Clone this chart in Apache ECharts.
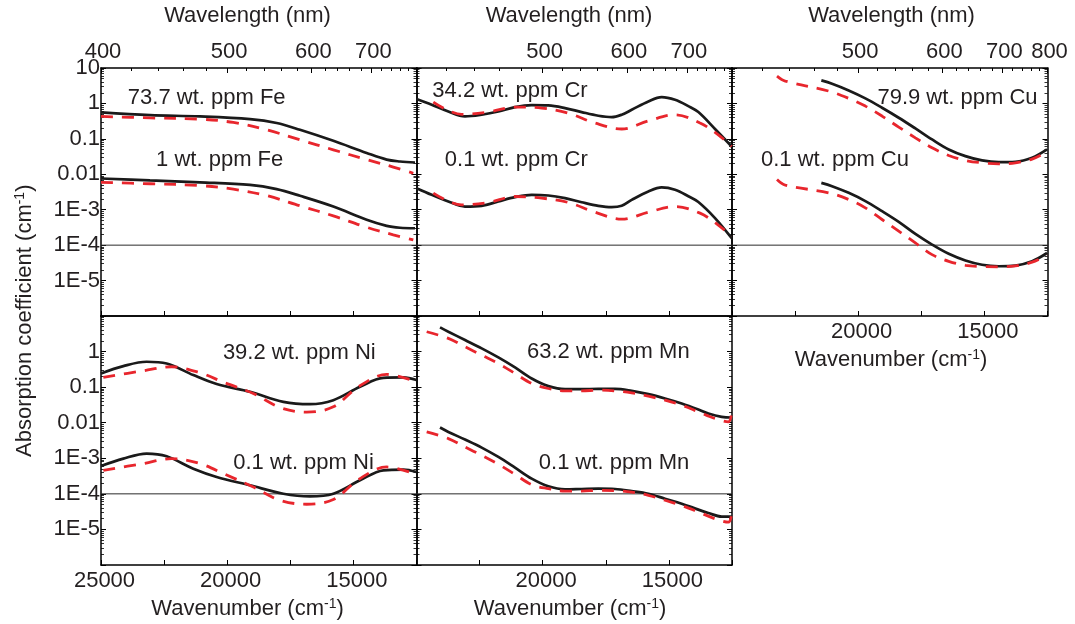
<!DOCTYPE html>
<html>
<head>
<meta charset="utf-8">
<script src="https://cdn.jsdelivr.net/npm/echarts@6/dist/echarts.min.js"></script>
<style>html,body{margin:0;padding:0;background:#fff}#c{width:1075px;height:624px}</style>
</head>
<body>
<div id="c"></div>
<script>
// ---------------- DATA (wavenumber cm^-1, absorption coefficient cm^-1) ----------------
// Fe
const feMeasNu = [25000, 23059, 21078, 19097, 18040, 17116, 15795, 14475, 13682, 13155, 12560];
const feHiMeas = [0.56, 0.47, 0.43, 0.36, 0.28, 0.18, 0.088, 0.040, 0.026, 0.023, 0.0215];
const feLoMeas = [0.0076, 0.0067, 0.0059, 0.0050, 0.0038, 0.00247, 0.00123, 0.00052, 0.00035, 0.00031, 0.00030];
const feCalcNu = [25000, 23059, 21078, 19758, 18435, 17116, 15795, 14475, 13419, 12627];
const feHiCalc = [0.43, 0.39, 0.36, 0.29, 0.18, 0.094, 0.049, 0.026, 0.016, 0.0107];
const feLoCalc = [0.0059, 0.0054, 0.0048, 0.0038, 0.0025, 0.00129, 0.00067, 0.00032, 0.000196, 0.00014];
// Cr
const crMeasNu = [25000, 24399, 23738, 23078, 22418, 21757, 21097, 20437, 19776, 19116, 18456, 17795, 17267, 16871, 16474, 15814, 15286, 14757, 14229, 13833, 13173, 12512];
const crHiMeas = [1.33, 0.92, 0.59, 0.43, 0.48, 0.59, 0.79, 0.90, 0.88, 0.74, 0.57, 0.45, 0.41, 0.48, 0.66, 1.14, 1.51, 1.27, 0.84, 0.57, 0.19, 0.061];
const crLoMeas = [0.00406, 0.00264, 0.00171, 0.00123, 0.00129, 0.00171, 0.00226, 0.00264, 0.00252, 0.00212, 0.00163, 0.00129, 0.00118, 0.00129, 0.0019, 0.00327, 0.00425, 0.00365, 0.00240, 0.00165, 0.00058, 0.000157];
const crCalcNu = [24334, 23210, 22155, 21097, 20040, 18985, 17928, 16870, 15816, 14758, 13768, 13043, 12512];
const crHiCalc = [1.09, 0.49, 0.57, 0.79, 0.74, 0.53, 0.28, 0.19, 0.32, 0.48, 0.28, 0.13, 0.061];
const crLoCalc = [0.00294, 0.00137, 0.0016, 0.00236, 0.00212, 0.0016, 0.00085, 0.00054, 0.00085, 0.00123, 0.0008, 0.00037, 0.000175];
// Cu
const cuMeasNu = [21460, 21037, 20377, 19716, 19056, 18395, 17735, 17074, 16414, 15753, 15093, 14432, 13772, 13111, 12517];
const cuHiMeas = [4.47, 3.60, 2.33, 1.39, 0.755, 0.394, 0.197, 0.0964, 0.0503, 0.0326, 0.0246, 0.022, 0.0225, 0.0292, 0.0503];
const cuLoMeas = [0.00574, 0.00462, 0.0030, 0.00175, 0.00091, 0.000455, 0.000208, 0.000104, 0.000057, 0.000037, 0.000028, 0.0000254, 0.0000265, 0.000035, 0.00006];
const cuCalcNu = [23217, 22886, 21169, 20377, 19716, 19056, 18395, 17735, 17074, 16414, 15753, 15093, 14432, 13772, 13111, 12517];
const cuHiCalc = [5.93, 4.28, 2.23, 1.39, 0.84, 0.44, 0.215, 0.107, 0.056, 0.034, 0.0246, 0.0211, 0.0198, 0.0211, 0.0268, 0.0432];
const cuLoCalc = [0.00714, 0.00493, 0.0030, 0.00194, 0.00113, 0.00053, 0.000248, 0.000116, 0.000054, 0.000035, 0.000027, 0.0000249, 0.0000244, 0.000026, 0.000033, 0.000052];
// Ni
const niMeasNu = [25000, 24115, 23191, 22399, 21342, 20418, 19097, 17776, 16720, 15795, 14739, 13814, 13022, 12500];
const niHiMeas = [0.243, 0.391, 0.518, 0.464, 0.218, 0.122, 0.074, 0.0387, 0.0332, 0.043, 0.102, 0.183, 0.187, 0.158];
const niLoMeas = [0.000608, 0.00098, 0.001355, 0.00114, 0.00051, 0.000299, 0.000174, 0.000101, 0.000085, 0.000101, 0.00024, 0.00046, 0.00048, 0.00041];
const niCalcNu = [24908, 23323, 22201, 21078, 20087, 18965, 17908, 16852, 15795, 14805, 13682, 12500];
const niHiCalc = [0.187, 0.288, 0.374, 0.253, 0.132, 0.0664, 0.0268, 0.0198, 0.0279, 0.102, 0.228, 0.142];
const niLoCalc = [0.00046, 0.00071, 0.00098, 0.00071, 0.000355, 0.000156, 0.000066, 0.000051, 0.000069, 0.00025, 0.00057, 0.00035];
// Mn
const mnMeasNu = [24068, 23738, 23078, 22418, 21757, 21097, 20437, 19776, 19116, 18456, 17795, 17135, 16474, 15814, 15154, 14493, 13833, 13437, 12909, 12512];
const mnHiMeas = [4.79, 3.61, 2.11, 1.23, 0.684, 0.358, 0.175, 0.107, 0.0877, 0.0877, 0.0897, 0.0897, 0.0787, 0.0635, 0.0479, 0.0346, 0.0235, 0.0181, 0.0146, 0.014];
const mnLoMeas = [0.00731, 0.00551, 0.00336, 0.0020, 0.00109, 0.000545, 0.000267, 0.000163, 0.000134, 0.000137, 0.00014, 0.000137, 0.00012, 0.000101, 0.000073, 0.000053, 0.000036, 0.000029, 0.000023, 0.000023];
const mnCalcNu = [24597, 23738, 23078, 22418, 21757, 21097, 20437, 19776, 19116, 18456, 17795, 17135, 16474, 15814, 15154, 14493, 13833, 13173, 12644, 12512];
const mnHiCalc = [3.61, 2.35, 1.37, 0.796, 0.463, 0.243, 0.127, 0.0916, 0.0787, 0.0787, 0.0822, 0.0787, 0.0692, 0.0557, 0.043, 0.0311, 0.0202, 0.0131, 0.01055, 0.0202];
const mnLoCalc = [0.00551, 0.00358, 0.00208, 0.00121, 0.000677, 0.000354, 0.000181, 0.00014, 0.00012, 0.00012, 0.000125, 0.000123, 0.000112, 0.000091, 0.000066, 0.000047, 0.000031, 0.00002, 0.000016, 0.000028];

// reference level drawn in every panel
const refLevel = 1e-4;
const nuRange = [25000, 12500];

// Tick labels
const wlMajor = [400, 500, 600, 700, 800];
const wlMinor = [420, 440, 460, 480, 520, 540, 560, 580, 620, 640, 660, 680, 720, 740, 760, 780];
const yMajor = [1e-6, 1e-5, 1e-4, 1e-3, 0.01, 0.1, 1, 10];
const yMinorMant = [2, 3, 4, 5, 6, 7, 8, 9];
const labels = {
  fe: ['73.7 wt. ppm Fe', '1 wt. ppm Fe'],
  cr: ['34.2 wt. ppm Cr', '0.1 wt. ppm Cr'],
  cu: ['79.9 wt. ppm Cu', '0.1 wt. ppm Cu'],
  ni: ['39.2 wt. ppm Ni', '0.1 wt. ppm Ni'],
  mn: ['63.2 wt. ppm Mn', '0.1 wt. ppm Mn']
};

// ---------------- LAYOUT ----------------
const FONT = "'Liberation Sans', Arial, Helvetica, sans-serif";
const TXT = '#231f20';
const FS = 22;
const W = 315.5;
const panels = [
  {key:'fe', left:101,   top:68,  h:248, yLab:[10,1,0.1,0.01,1e-3,1e-4,1e-5], xLab:[], wlLab:[400,500,600,700],
   s:[[feMeasNu,feHiMeas,0],[feMeasNu,feLoMeas,0],[feCalcNu,feHiCalc,1],[feCalcNu,feLoCalc,1]],
   ann:[[206.7,98.3],[219.7,160]]},
  {key:'cr', left:416.5, top:68,  h:248, yLab:[], xLab:[], wlLab:[500,600,700],
   s:[[crMeasNu,crHiMeas,0],[crMeasNu,crLoMeas,0],[crCalcNu,crHiCalc,1],[crCalcNu,crLoCalc,1]],
   ann:[[510,90.7],[516.3,160]]},
  {key:'cu', left:732,   top:68,  h:248, yLab:[], xLab:[20000,15000], wlLab:[500,600,700,800],
   s:[[cuMeasNu,cuHiMeas,0],[cuMeasNu,cuLoMeas,0],[cuCalcNu,cuHiCalc,1],[cuCalcNu,cuLoCalc,1]],
   ann:[[957.5,98.3],[835,160]]},
  {key:'ni', left:101,   top:316, h:249, yLab:[1,0.1,0.01,1e-3,1e-4,1e-5], xLab:[25000,20000,15000], wlLab:null,
   s:[[niMeasNu,niHiMeas,0],[niMeasNu,niLoMeas,0],[niCalcNu,niHiCalc,1],[niCalcNu,niLoCalc,1]],
   ann:[[299.3,353.3],[303.5,463.3]]},
  {key:'mn', left:416.5, top:316, h:249, yLab:[], xLab:[20000,15000], wlLab:null,
   s:[[mnMeasNu,mnHiMeas,0],[mnMeasNu,mnLoMeas,0],[mnCalcNu,mnHiCalc,1],[mnCalcNu,mnLoCalc,1]],
   ann:[[608.3,352.3],[614,463.3]]}
];

const yMinor = [];
for (let e = -6; e < 1; e++) yMinorMant.forEach(m => yMinor.push(m * Math.pow(10, e)));
const toNu = l => 1e7 / l;
const fmtY = v => { const e = Math.round(Math.log10(v)); return e >= -2 ? ['0.01','0.1','1','10'][e + 2] : '1E' + e; };
const axisLine = {show:true, lineStyle:{color:'#000', width:1.5}};

const grid = [], xAxis = [], yAxis = [], series = [], graphic = [];
panels.forEach((p, gi) => {
  grid.push({left:p.left, top:p.top, width:W, height:p.h, containLabel:false});
  const base = {gridIndex:gi, type:'value', min:12500, max:25000, inverse:true, splitLine:{show:false}};
  const xb = xAxis.length;
  xAxis.push(Object.assign({}, base, {position:'bottom', interval:2500, axisLine,
    axisTick:{show:true, inside:true, length:5, lineStyle:{color:'#000', width:1}},
    axisLabel:{show:p.xLab.length>0, margin:5, color:TXT, fontFamily:FONT, fontSize:FS, padding:[0,0,0,7],
      customValues:p.xLab.length ? p.xLab : undefined, formatter:v => String(v)}}));
  xAxis.push(Object.assign({}, base, {position:'top', axisLine,
    axisTick:{show:p.wlLab!==null, inside:true, length:5, lineStyle:{color:'#000', width:1}, customValues:wlMajor.map(toNu)},
    axisLabel:{show:!!(p.wlLab && p.wlLab.length), margin:5, color:TXT, fontFamily:FONT, fontSize:FS, padding:[0,0,0,4],
      customValues:(p.wlLab||[400]).map(toNu), formatter:v => String(Math.round(1e7 / v))}}));
  xAxis.push(Object.assign({}, base, {position:'top', axisLine:{show:false},
    axisTick:{show:p.wlLab!==null, inside:true, length:3, lineStyle:{color:'#000', width:1}, customValues:wlMinor.map(toNu)},
    axisLabel:{show:false}}));
  const ybase = {gridIndex:gi, type:'log', logBase:10, min:1e-6, max:10, splitLine:{show:false}};
  const yl = yAxis.length;
  ['left','right'].forEach(pos => {
    yAxis.push(Object.assign({}, ybase, {position:pos, axisLine,
      axisTick:{show:true, inside:true, length:5, lineStyle:{color:'#000', width:1}, customValues:yMajor},
      axisLabel:{show:pos==='left' && p.yLab.length>0, margin:1, color:TXT, fontFamily:FONT, fontSize:FS,
        customValues:p.yLab.length ? p.yLab : [1], formatter:fmtY}}));
    yAxis.push(Object.assign({}, ybase, {position:pos, axisLine:{show:false},
      axisTick:{show:true, inside:true, length:3, lineStyle:{color:'#000', width:0.8}, customValues:yMinor},
      axisLabel:{show:false}}));
  });
  series.push({type:'line', xAxisIndex:xb, yAxisIndex:yl, symbol:'none', silent:true, z:1, animation:false,
    data:nuRange.map(nu => [nu, refLevel]), lineStyle:{color:'#2a2a2a', width:1}});
  p.s.forEach(s => {
    const calc = s[2] === 1;
    series.push({type:'line', xAxisIndex:xb, yAxisIndex:yl, showSymbol:false, symbol:'none', smooth:0.35,
      data:s[0].map((nu, k) => [nu, s[1][k]]), z: calc ? 3 : 2, animation:false,
      lineStyle: calc ? {color:'#e8262d', width:2.8, type:[12, 9]} : {color:'#1a1a1a', width:2.7}});
  });
  p.ann.forEach((a, k) => graphic.push({type:'text', x:a[0], y:a[1], z:10,
    style:{text:labels[p.key][k], font:FS + 'px ' + FONT, fill:TXT, align:'center', verticalAlign:'middle'}}));
});

// axis titles
const supRich = {sup:{fontSize:14, fontFamily:FONT, fill:TXT, verticalAlign:'top', padding:[0,0,10,0]}};
[[247.5,16],[569,16],[891.5,16]].forEach(c => graphic.push({type:'text', x:c[0], y:c[1],
  style:{text:'Wavelength (nm)', font:FS + 'px ' + FONT, fill:TXT, align:'center', verticalAlign:'middle'}}));
[[247.5,609],[570,609],[891,360]].forEach(c => graphic.push({type:'text', x:c[0], y:c[1],
  style:{text:'Wavenumber (cm{sup|-1})', font:FS + 'px ' + FONT, fill:TXT, align:'center', verticalAlign:'middle', rich:supRich}}));
graphic.push({type:'text', x:25, y:457, rotation:Math.PI/2,
  style:{text:'Absorption coefficient (cm{sup|-1})', font:FS + 'px ' + FONT, fill:TXT, align:'left', verticalAlign:'middle', rich:supRich}});

const chart = echarts.init(document.getElementById('c'), null, {renderer:'canvas'});
chart.setOption({backgroundColor:'#fff', animation:false, grid, xAxis, yAxis, series, graphic});
</script>
</body>
</html>
